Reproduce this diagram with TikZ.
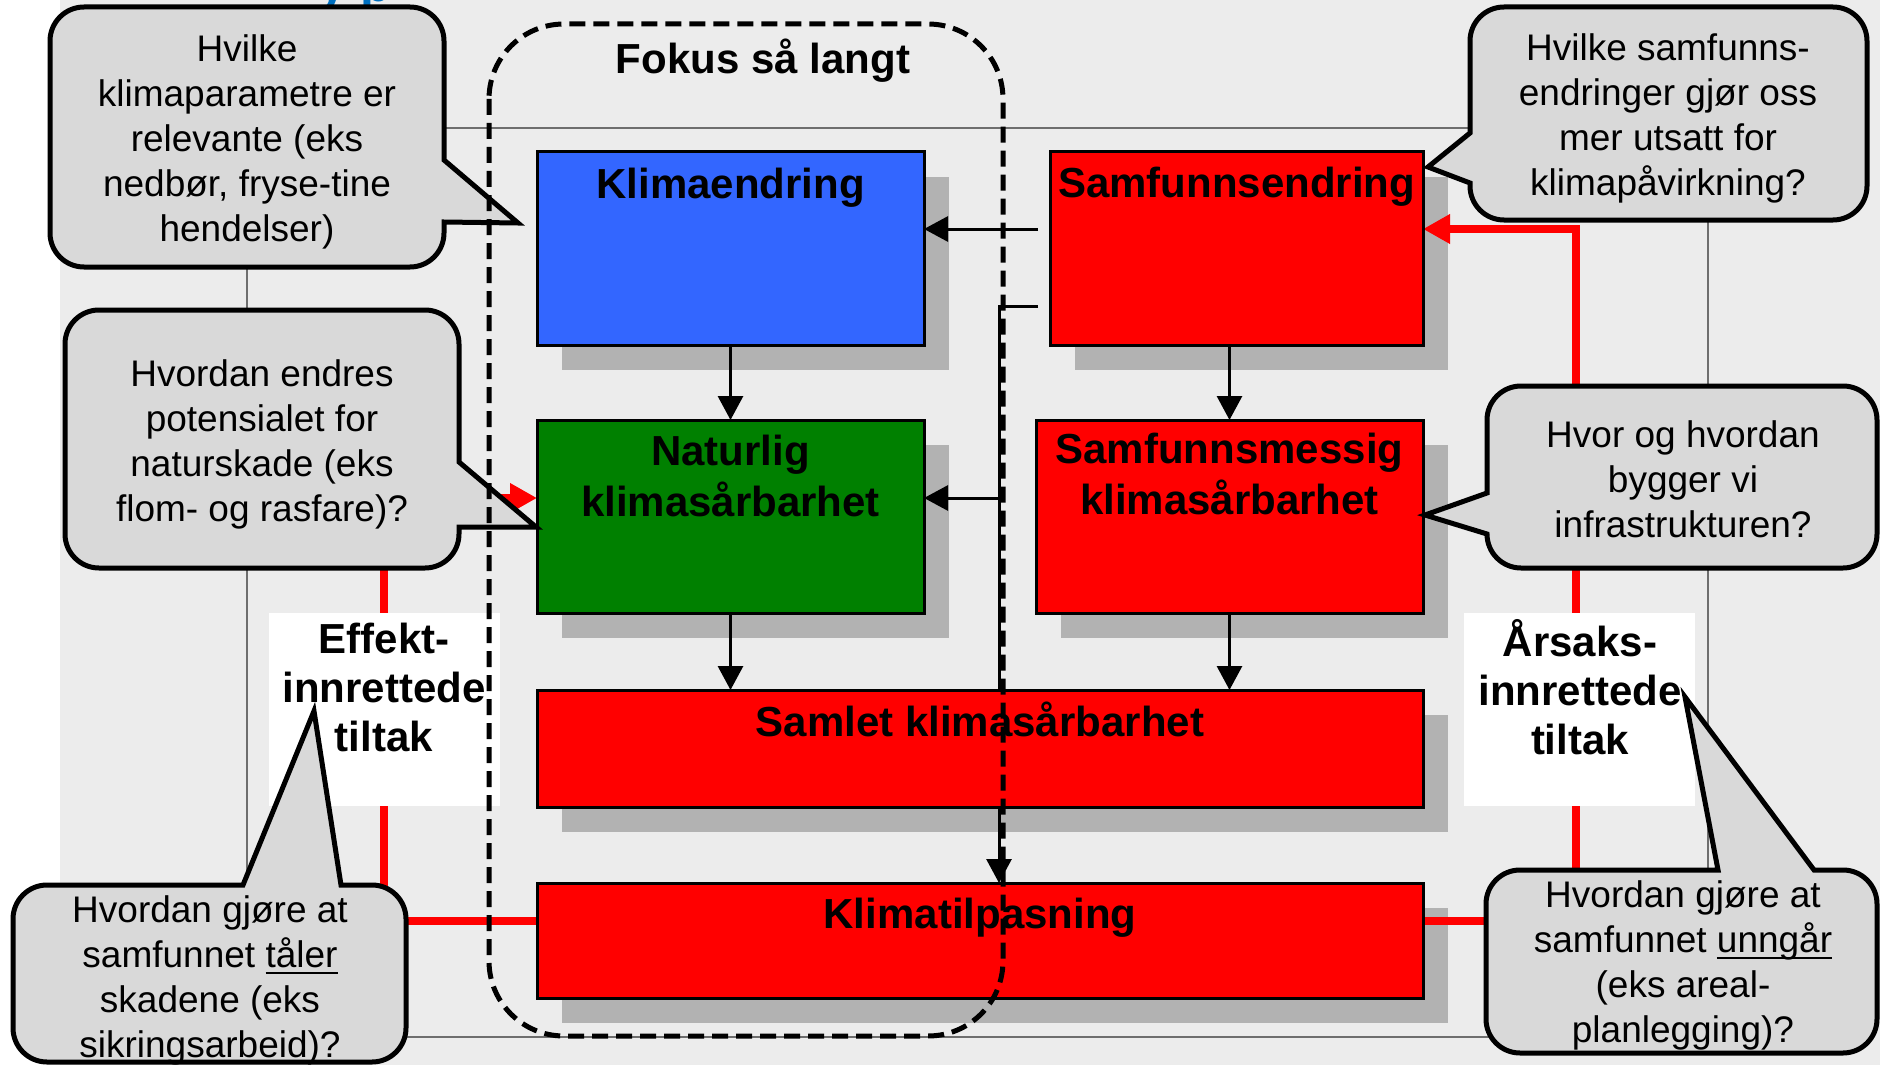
\documentclass[tikz,border=0pt]{standalone}
\usepackage{fontspec}
\setmainfont{Liberation Sans}
\usetikzlibrary{arrows.meta}
\pgfdeclarelayer{bg}
\pgfdeclarelayer{shade}
\pgfdeclarelayer{lines}
\pgfsetlayers{bg,shade,lines,main}
\definecolor{bggray}{RGB}{236,236,236}
\definecolor{framegray}{RGB}{110,110,110}
\definecolor{kblue}{RGB}{51,102,255}
\definecolor{kgreen}{RGB}{0,128,0}
\definecolor{kred}{RGB}{255,0,0}
\definecolor{shadowgray}{RGB}{178,178,178}
\definecolor{bubblegray}{RGB}{217,217,217}
\definecolor{titleblue}{RGB}{0,112,192}
\newcommand{\boldlab}{\fontsize{21}{24.5}\selectfont\bfseries}
\newcommand{\bubfont}{\fontsize{18.5}{22.5}\selectfont}
\newcommand{\uword}[1]{\setbox0\hbox{#1}\rlap{\rule[-3.2pt]{\wd0}{0.8pt}}\box0}
\begin{document}
\begin{tikzpicture}[x=0.5pt,y=-0.5pt,
  box/.style={draw=black, line width=1.5pt, inner sep=0pt, outer sep=0pt},
  boxlabel/.style={font=\boldlab, align=center, anchor=north, inner sep=0pt},
  arr/.style={line width=1.5pt, -{Triangle[length=12pt,width=12.5pt]}},
  redarr/.style={draw=kred, line width=4pt, -{Triangle[length=13.5pt,width=14pt]}},
  bubble/.style={draw=black, fill=bubblegray, line width=2.5pt, line join=miter},
  bubtext/.style={font=\bubfont, align=center, anchor=north, inner sep=0pt},
  labelbox/.style={fill=white, inner sep=0pt, outer sep=0pt, minimum width=115.5pt, minimum height=96.5pt},
  focusframe/.style={draw=black, line width=2.5pt, dash pattern=on 8pt off 4pt, rounded corners=37.5pt}
]
\useasboundingbox (0,0) rectangle (1880,1065);
\clip (0,0) rectangle (1880,1065);
\begin{pgfonlayer}{bg}
  \fill[white] (0,0) rectangle (1880,1065);
  \fill[bggray] (60,0) rectangle (1880,1065);
  \draw[framegray, line width=0.75pt] (247,128) rectangle (1708,1037);
\end{pgfonlayer}

% title fragment cut at the top
\node[anchor=base west, inner sep=0pt, font=\fontsize{25}{30}\selectfont\bfseries, text=titleblue] (ttl) at (318,2) {y p};

% boxes
\node[box, fill=kblue,  minimum width=193.5pt, minimum height=96.5pt] (klima)  at (730.5,248.5) {};
\node[box, fill=kred,   minimum width=186.5pt, minimum height=96.5pt] (samf)   at (1236.5,248.5) {};
\node[box, fill=kgreen, minimum width=193.5pt, minimum height=96.5pt] (natur)  at (730.5,516.5) {};
\node[box, fill=kred,   minimum width=193.5pt, minimum height=96.5pt] (smess)  at (1229.5,516.5) {};
\node[box, fill=kred,   minimum width=443pt,   minimum height=58.5pt] (samlet) at (980,748.5) {};
\node[box, fill=kred,   minimum width=443pt,   minimum height=57.5pt] (tilp)   at (980,940.5) {};

\begin{pgfonlayer}{shade}
  \foreach \n in {klima,samf,natur,smess,samlet,tilp}
    \fill[shadowgray] ([shift={(25,25)}]\n.south west) rectangle ([shift={(25,25)}]\n.north east);
\end{pgfonlayer}

\node[boxlabel] (klimaT)  at (730.5,163.7)  {\strut Klimaendring};
\node[boxlabel] (samfT)   at (1236.5,162.7) {\strut Samfunnsendring};
\node[boxlabel] (naturT)  at (730.5,430.7)  {\strut Naturlig\\klimasårbarhet};
\node[boxlabel] (smessT)  at (1229.5,428.7) {\strut Samfunnsmessig\\klimasårbarhet};
\node[boxlabel] (samletT) at (980,701.7)    {\strut Samlet klimasårbarhet};
\node[boxlabel] (tilpT)   at (980,893.7)    {\strut Klimatilpasning};

% connectors
\coordinate (c1) at (1038,229);
\coordinate (c2) at (1038,306);
\coordinate (jtop) at (999,306);
\coordinate (jmid) at (999,498);
\coordinate (rl1) at (384,921);
\coordinate (rl2) at (384,498);
\coordinate (rr1) at (1576,921);
\coordinate (rr2) at (1576,229);
\begin{pgfonlayer}{lines}
  \draw[arr] (klima.south) -- (natur.north);
  \draw[arr] (smess.north |- samf.south) -- (smess.north);
  \draw[arr] (natur.south) -- (natur.south |- samlet.north);
  \draw[arr] (smess.south) -- (smess.south |- samlet.north);
  \draw[arr] (c1) -- (c1 -| klima.east);
  \draw[arr] (c2) -- (jtop) -- (jtop |- tilp.north);
  \draw[arr] (jmid) -- (jmid -| natur.east);
  \draw[redarr] (tilp.west |- rl1) -- (rl1) -- (rl2) -- (rl2 -| natur.west);
  \draw[redarr] (tilp.east |- rr1) -- (rr1) -- (rr2) -- (rr2 -| samf.east);
\end{pgfonlayer}

% white label boxes
\node[labelbox] (effbox) at (384.5,709.5) {};
\node[labelbox] (arsbox) at (1579.5,709.5) {};
\node[boxlabel] (effT) at (384,618.7)  {\strut Effekt-\\innrettede\\tiltak};
\node[boxlabel] (arsT) at (1580,618.7) {\strut Årsaks-\\innrettede\\tiltak};

% bubbles
\draw[bubble] (84,7) -- (410,7) arc[start angle=-90,end angle=0,radius=34] -- (444,160) -- (518,223) -- (444,222) -- (444,233) arc[start angle=0,end angle=90,radius=34] -- (84,267) arc[start angle=90,end angle=180,radius=34] -- (50,41) arc[start angle=180,end angle=270,radius=34] -- cycle;
\draw[bubble] (99,310) -- (425,310) arc[start angle=-90,end angle=0,radius=34] -- (459,462) -- (536,527) -- (459,527) -- (459,534) arc[start angle=0,end angle=90,radius=34] -- (99,568) arc[start angle=90,end angle=180,radius=34] -- (65,344) arc[start angle=180,end angle=270,radius=34] -- cycle;
\draw[bubble] (1504,7) -- (1833,7) arc[start angle=-90,end angle=0,radius=34] -- (1867,186) arc[start angle=0,end angle=90,radius=34] -- (1504,220) arc[start angle=90,end angle=180,radius=34] -- (1470,183) -- (1428,167) -- (1470,133) -- (1470,41) arc[start angle=180,end angle=270,radius=34] -- cycle;
\draw[bubble] (1521,386) -- (1843,386) arc[start angle=-90,end angle=0,radius=34] -- (1877,534) arc[start angle=0,end angle=90,radius=34] -- (1521,568) arc[start angle=90,end angle=180,radius=34] -- (1425,515) -- (1487,493) -- (1487,420) arc[start angle=180,end angle=270,radius=34] -- cycle;
\draw[bubble] (47,885) -- (243,885) -- (314,711) -- (341,885) -- (372,885) arc[start angle=-90,end angle=0,radius=34] -- (406,1028) arc[start angle=0,end angle=90,radius=34] -- (47,1062) arc[start angle=90,end angle=180,radius=34] -- (13,919) arc[start angle=180,end angle=270,radius=34] -- cycle;
\draw[bubble] (1520,870) -- (1718,870) -- (1685,697) -- (1814,870) -- (1843,870) arc[start angle=-90,end angle=0,radius=34] -- (1877,1019) arc[start angle=0,end angle=90,radius=34] -- (1520,1053) arc[start angle=90,end angle=180,radius=34] -- (1486,904) arc[start angle=180,end angle=270,radius=34] -- cycle;

\node[bubtext] (q1) at (247,29.5)   {\strut Hvilke\\klimaparametre er\\relevante (eks\\nedbør, fryse-tine\\hendelser)};
\node[bubtext] (q2) at (262,354.5)  {\strut Hvordan endres\\potensialet for\\naturskade (eks\\flom- og rasfare)?};
\node[bubtext] (q3) at (1668,28.5)  {\strut Hvilke samfunns-\\endringer gjør oss\\mer utsatt for\\klimapåvirkning?};
\node[bubtext] (q4) at (1683,415.5) {\strut Hvor og hvordan\\bygger vi\\infrastrukturen?};
\node[bubtext] (q5) at (210,890.5)  {\strut Hvordan gjøre at\\samfunnet \uword{tåler}\\skadene (eks\\sikringsarbeid)?};
\node[bubtext] (q6) at (1683,875.5) {\strut Hvordan gjøre at\\samfunnet \uword{unngår}\\(eks areal-\\planlegging)?};

% focus frame
\draw[focusframe] (489,24) rectangle (1003,1036);
\node[boxlabel] (fokusT) at (763,38.7) {\strut Fokus så langt};
\end{tikzpicture}
\end{document}
